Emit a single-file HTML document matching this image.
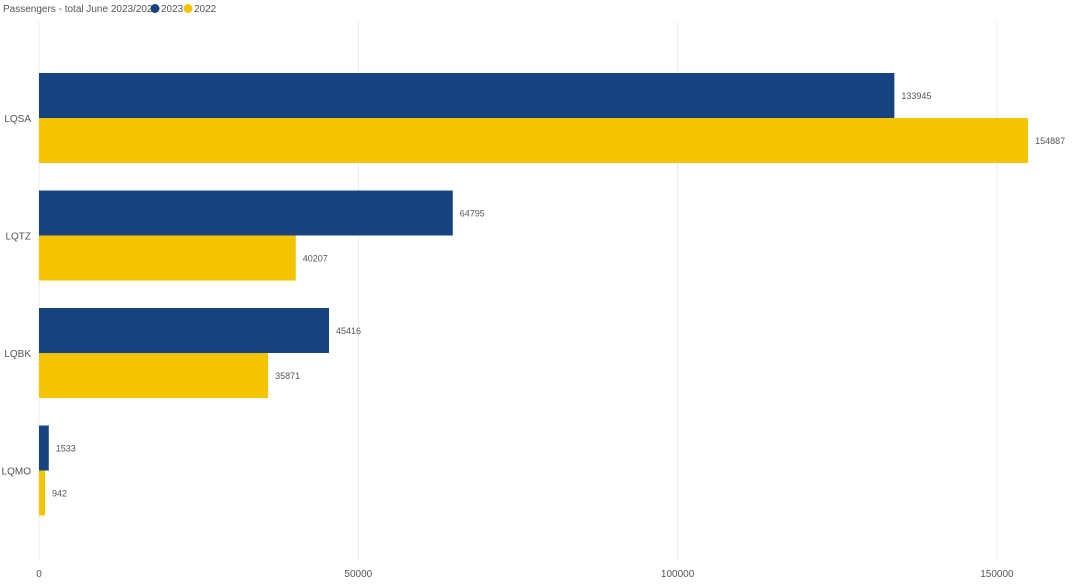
<!DOCTYPE html>
<html><head><meta charset="utf-8"><style>
body{margin:0;background:#fff;font-family:"Liberation Sans",sans-serif;}
</style></head><body>
<svg id="c" width="1078" height="583" xmlns="http://www.w3.org/2000/svg">
<g>
<text x="3" y="12" font-size="10" fill="#555">Passengers - total June 2023/2022</text>
<circle cx="155" cy="8.5" r="4.5" fill="#174480"/>
<text x="161" y="12" font-size="10" fill="#555">2023</text>
<circle cx="188" cy="8.5" r="4.5" fill="#f5c400"/>
<text x="194" y="12" font-size="10" fill="#555">2022</text>
</g>
<g id="grid"></g><g id="bars"></g><g id="labels"></g>
</svg>
<script>
const categories=["LQSA","LQTZ","LQBK","LQMO"];
const series2023=[133945,64795,45416,1533];
const series2022=[154887,40207,35871,942];
const ticks=[0,50000,100000,150000];
const NS="http://www.w3.org/2000/svg";
const x0=39,scale=319.3/50000,top0=73,band=117.5,bh=45;
const X=v=>x0+v*scale;
function mk(tag,attrs,parent){const e=document.createElementNS(NS,tag);for(const k in attrs)e.setAttribute(k,attrs[k]);document.getElementById(parent).appendChild(e);return e;}
ticks.forEach(t=>{
const l=mk('line',{x1:X(t),x2:X(t),y1:22,y2:560,stroke:'#ebebeb','stroke-width':1},'grid');


const tx=mk('text',{x:X(t),y:577,'font-size':10,fill:'#555','text-anchor':'middle'},'grid');
tx.textContent=t;


});
categories.forEach((c,i)=>{
const y=top0+i*band;
const lab=mk('text',{x:31,y:y+bh+4,'font-size':10,fill:'#555','text-anchor':'end'},'labels');
lab.textContent=c;


[[series2023,'#174480',0,'2023'],[series2022,'#f5c400',bh,'2022']].forEach(([s,col,off,yr])=>{
const r=mk('rect',{x:x0,y:y+off,width:X(s[i])-x0,height:bh,fill:col},'bars');


const v=mk('text',{x:X(s[i])+7,y:y+off+bh/2+3.5,'font-size':9,fill:'#555'},'labels');
v.textContent=s[i];


});
});
</script>
</body></html>
